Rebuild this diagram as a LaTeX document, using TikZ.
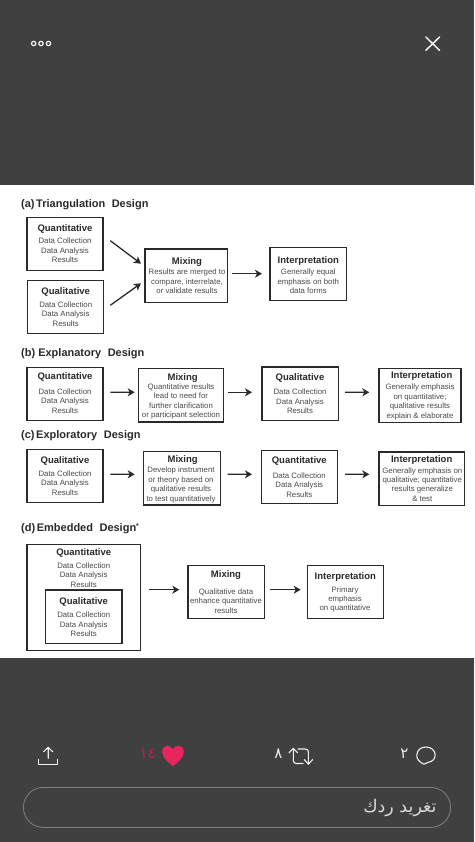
\documentclass[tikz,border=0pt]{standalone}
\usepackage{fontspec}
\setmainfont{Liberation Sans}
\newfontfamily\arabicfont[Script=Arabic]{DejaVu Sans}
\TeXXeTstate=1
\usetikzlibrary{arrows.meta}
\definecolor{dark}{HTML}{404040}
\definecolor{ink}{HTML}{2A2A2A}
\definecolor{bodyink}{HTML}{4A4A4A}
\definecolor{pinkheart}{HTML}{E8255F}
\definecolor{pinknum}{HTML}{B8265A}
\definecolor{iconw}{HTML}{F0F0F0}
\tikzset{
  dbox/.style={draw=ink,line width=1.1pt,fill=white,inner sep=0pt,outer sep=0pt},
  head/.style={anchor=base,inner sep=0pt,yshift=-3.4pt,text=ink,font=\fontsize{9.5}{11}\selectfont\bfseries},
  body/.style={anchor=north,inner sep=0pt,yshift=3.2pt,align=center,text=bodyink,font=\fontsize{7.8}{9.45}\selectfont},
  ttl/.style={anchor=base west,inner sep=0pt,yshift=-3.9pt,text=ink,font=\fontsize{11}{12}\selectfont\bfseries},
  arr/.style={-{Stealth[length=7pt,width=8pt,inset=2pt]},draw=ink,line width=1.3pt},
  icon/.style={draw=iconw,line width=1.1pt,line cap=round,line join=round},
}
\newcommand{\bx}[5]{\node[dbox,minimum width={(#4-#2)*1pt},minimum height={(#5-#3)*1pt}] (#1) at ({(#2+#4)/2},{(#3+#5)/2}) {};}
\newcommand{\st}{\rule{0pt}{6pt}}
\begin{document}
\begin{tikzpicture}[x=1pt,y=-1pt]
\useasboundingbox (0,0) rectangle (474,842);
\fill[dark] (0,0) rectangle (474,842);
\fill[white] (0,185) rectangle (474,657.5);

% top bar
\foreach \px in {33.7,41,48.5} \draw[iconw,line width=1.2pt] (\px,43.5) circle (2.2);
\draw[icon,line width=1.5pt] (425.8,37) -- (439.6,50.4) (439.6,37) -- (425.8,50.4);

% titles
\node[ttl] (ta) at (21,203.3) {(a)\hspace{1.6pt}Triangulation\hspace{6.5pt}Design};
\node[ttl] (tb) at (21,352.3) {(b) Explanatory\hspace{6.5pt}Design};
\node[ttl] (tc) at (21,434.3) {(c)\hspace{1.6pt}Exploratory\hspace{6.5pt}Design};
\node[ttl] (td) at (21,527.7) {(d)\hspace{1.6pt}Embedded\hspace{6.5pt}Design\raisebox{3.5pt}{\fontsize{7}{7}\selectfont *}};

% (a)
\bx{a1}{27}{217.3}{103}{270.3}
\bx{a2}{27.5}{280.3}{103.5}{333.3}
\bx{a3}{145}{249}{227.5}{302.3}
\bx{a4}{270}{247.3}{346.5}{300.7}
\node[head] (a1h) at (65,228) {Quantitative};
\node[body] (a1b) at (65,240.7) {\st Data Collection\\Data Analysis\\Results};
\node[head] (a2h) at (65.7,290.7) {Qualitative};
\node[body] (a2b) at (65.7,304.3) {\st Data Collection\\Data Analysis\\Results};
\node[head] (a3h) at (187,260.7) {Mixing};
\node[body] (a3b) at (187,271.7) {\st Results are merged to\\compare, interrelate,\\or validate results};
\node[head] (a4h) at (308.3,260) {Interpretation};
\node[body] (a4b) at (308.3,271.7) {\st Generally equal\\emphasis on both\\data forms};
\draw[arr] ([xshift=7.3pt,yshift=3.1pt]a1.east) -- ([xshift=-4pt,yshift=11.95pt]a3.west);
\draw[arr] ([xshift=6.8pt,yshift=1.5pt]a2.east) -- ([xshift=-4pt,yshift=-7.65pt]a3.west);
\draw[arr] ([xshift=4.2pt,yshift=1.95pt]a3.east) -- ([xshift=-8pt,yshift=.3pt]a4.west);

% (b)
\bx{b1}{27}{367.3}{103}{420.7}
\bx{b2}{138.3}{368.7}{223.3}{422}
\bx{b3}{262}{367}{338.3}{420.3}
\bx{b4}{379}{368.7}{461}{422.3}
\node[head] (b1h) at (65,376.3) {Quantitative};
\node[body] (b1b) at (65,391.3) {\st Data Collection\\Data Analysis\\Results};
\node[head] (b2h) at (182.7,376.7) {Mixing};
\node[body] (b2b) at (181,386.3) {\st Quantitative results\\lead to need for\\further clarification\\or participant selection};
\node[head] (b3h) at (300,377) {Qualitative};
\node[body] (b3b) at (300,391.7) {\st Data Collection\\Data Analysis\\Results};
\node[head] (b4h) at (421.7,375.3) {Interpretation};
\node[body] (b4b) at (420,386.7) {\st Generally emphasis\\on quantitative;\\qualitative results\\explain \& elaborate};
\draw[arr] ([xshift=7.3pt,yshift=1.7pt]b1.east) -- ([xshift=-3.6pt,yshift=3.05pt]b2.west);
\draw[arr] ([xshift=4.4pt,yshift=3.05pt]b2.east) -- ([xshift=-10pt,yshift=1.35pt]b3.west);
\draw[arr] ([xshift=6.7pt,yshift=1.35pt]b3.east) -- ([xshift=-9.7pt,yshift=3.2pt]b4.west);

% (c)
\bx{c1}{27}{449.7}{103}{502.7}
\bx{c2}{143.7}{451.7}{220.3}{505}
\bx{c3}{261.3}{450.3}{337.7}{503.3}
\bx{c4}{379}{452}{464.3}{505.7}
\node[head] (c1h) at (65,460) {Qualitative};
\node[body] (c1b) at (65,473.3) {\st Data Collection\\Data Analysis\\Results};
\node[head] (c2h) at (182.7,458.7) {Mixing};
\node[body] (c2b) at (181,469.7) {\st Develop instrument\\or theory based on\\qualitative results\\to test quantitatively};
\node[head] (c3h) at (299.3,460) {Quantitative};
\node[body] (c3b) at (299.3,475.3) {\st Data Collection\\Data Analysis\\Results};
\node[head] (c4h) at (421.7,459.3) {Interpretation};
\node[body] (c4b) at (422.3,470) {\st Generally emphasis on\\qualitative; quantitative\\results generalize\\\& test};
\draw[arr] ([xshift=7.3pt,yshift=1.9pt]c1.east) -- ([xshift=-9pt,yshift=4.05pt]c2.west);
\draw[arr] ([xshift=7.4pt,yshift=4.05pt]c2.east) -- ([xshift=-9.3pt,yshift=2.5pt]c3.west);
\draw[arr] ([xshift=7.3pt,yshift=2.5pt]c3.east) -- ([xshift=-9.7pt,yshift=4.55pt]c4.west);

% (d)
\bx{d1}{27}{544.3}{140.3}{650.7}
\bx{d2}{45.7}{590}{122}{643.3}
\bx{d3}{188}{565.3}{264.3}{618.3}
\bx{d4}{307.3}{565.3}{383.7}{618.7}
\node[head] (d1h) at (83.7,551.7) {Quantitative};
\node[body] (d1b) at (83.7,565.3) {\st Data Collection\\Data Analysis\\Results};
\node[head] (d2h) at (83.7,601.3) {Qualitative};
\node[body] (d2b) at (83.7,614.7) {\st Data Collection\\Data Analysis\\Results};
\node[head] (d3h) at (226,573.7) {Mixing};
\node[body] (d3b) at (226,591.3) {\st Qualitative data\\enhance quantitative\\results};
\node[head] (d4h) at (345.3,576) {Interpretation};
\node[body] (d4b) at (345,589) {\st Primary\\emphasis\\on quantitative};
\draw[arr] ([xshift=8.4pt,yshift=7.8pt]d1.east) -- ([xshift=-8.7pt,yshift=2.1pt]d3.west);
\draw[arr] ([xshift=5.7pt,yshift=2.1pt]d3.east) -- ([xshift=-6.6pt,yshift=2.3pt]d4.west);

% bottom icons: share
\draw[icon] (38.6,759.5) -- (38.6,764.5) -- (57.8,764.5) -- (57.8,759.5);
\draw[icon] (48.2,758.3) -- (48.2,747.5) (43.6,751.8) -- (48.2,747.3) -- (52.8,751.8);
% heart
\fill[pinkheart] (173,766.2) .. controls (168,762) and (162.2,758) .. (162.2,751.8)
  .. controls (162.2,744.5) and (171,743.8) .. (173,749.5)
  .. controls (175,743.8) and (183.8,744.5) .. (183.8,751.8)
  .. controls (183.8,758) and (178,762) .. (173,766.2) -- cycle;
\node[inner sep=0pt,text=pinknum,font=\arabicfont\fontsize{15}{16}\selectfont] (nl) at (147.7,754) {١٤};
% retweet
\draw[icon] (293.3,748.5) -- (293.3,760.5) .. controls (293.3,762.5) and (294.5,763.5) .. (296.5,763.5) -- (303,763.5);
\draw[icon] (289,752.8) -- (293.3,748.3) -- (297.6,752.8);
\draw[icon] (298,749) -- (305,749) .. controls (307.3,749) and (308.4,750) .. (308.4,752) -- (308.4,764);
\draw[icon] (304.2,759.6) -- (308.4,764.2) -- (312.6,759.6);
\node[inner sep=0pt,text=iconw,font=\arabicfont\fontsize{15}{16}\selectfont] (nr) at (278.3,754) {٨};
% bubble
\draw[icon] (424,764.2) .. controls (419,762) and (416.8,759) .. (416.8,755.5)
  .. controls (416.8,750) and (420.8,747) .. (426,747)
  .. controls (431.2,747) and (435.2,750.5) .. (435.2,755)
  .. controls (435.2,759.5) and (431.5,762) .. (428,762.3)
  .. controls (426.5,763) and (425.5,764) .. (424,764.2) -- cycle;
\node[inner sep=0pt,text=iconw,font=\arabicfont\fontsize{15}{16}\selectfont] (nc) at (404.3,754) {٢};
% reply field
\draw[draw=black!0!gray,line width=.8pt,rounded corners=19.9pt] (23.4,787.4) rectangle (450.6,827.4);
\node[anchor=east,inner sep=0pt,text=black!15!white,font=\arabicfont\fontsize{17.5}{19}\selectfont] (rp) at (436.7,808) {\beginR تغريد ردك\endR};
\end{tikzpicture}
\end{document}
